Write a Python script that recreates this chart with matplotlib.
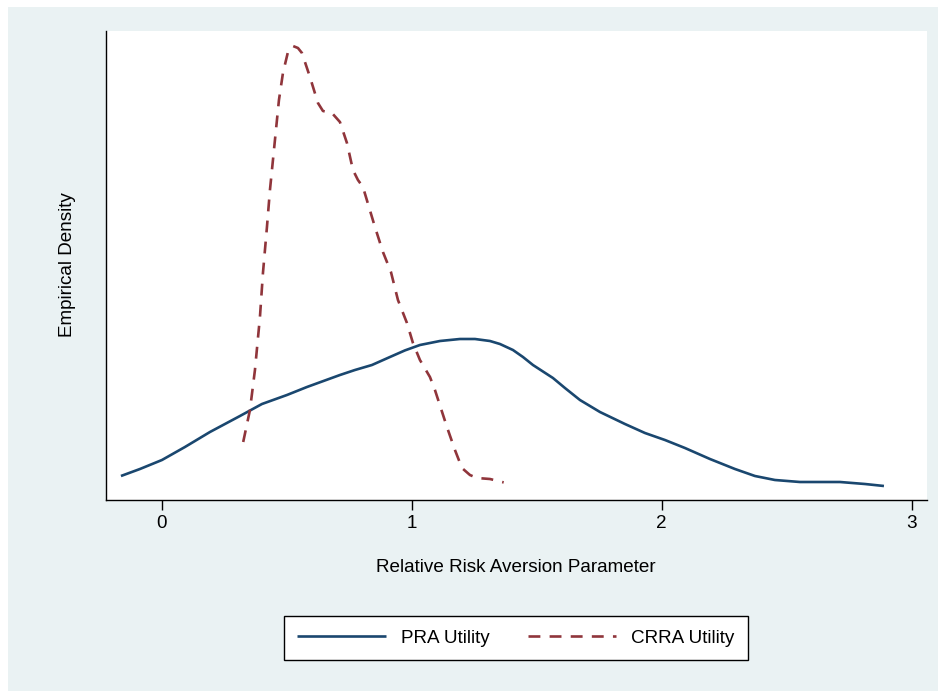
import matplotlib
matplotlib.use("Agg")
import matplotlib.pyplot as plt
from matplotlib.patches import Rectangle

plt.rcParams['font.family'] = ['Liberation Sans', 'DejaVu Sans']

# PRA Utility density (solid)
pra_x = [-0.163, -0.087, 0.001, 0.093, 0.193, 0.313, 0.401, 0.501, 0.581, 0.713,
         0.773, 0.841, 0.913, 0.973, 1.033, 1.113, 1.193, 1.253, 1.313, 1.353,
         1.405, 1.445, 1.485, 1.565, 1.613, 1.673, 1.753, 1.853, 1.933, 2.013,
         2.093, 2.193, 2.293, 2.373, 2.453, 2.553, 2.633, 2.713, 2.813, 2.889]
pra_y = [0.12, 0.155, 0.20, 0.265, 0.34, 0.42, 0.48, 0.525, 0.565, 0.625,
         0.65, 0.675, 0.715, 0.748, 0.775, 0.795, 0.805, 0.805, 0.795, 0.78,
         0.75, 0.715, 0.675, 0.61, 0.56, 0.50, 0.44, 0.38, 0.335, 0.30,
         0.26, 0.205, 0.155, 0.12, 0.10, 0.09, 0.09, 0.09, 0.08, 0.07]

# CRRA Utility density (dashed)
crra_x = [0.326, 0.353, 0.373, 0.393, 0.405, 0.421, 0.433, 0.453, 0.469, 0.485,
          0.505, 0.525, 0.545, 0.561, 0.593, 0.625, 0.645, 0.681, 0.713, 0.741,
          0.765, 0.785, 0.805, 0.853, 0.885, 0.917, 0.945, 0.981, 1.005, 1.033,
          1.073, 1.093, 1.141, 1.173, 1.201, 1.233, 1.261, 1.313, 1.361, 1.368]
crra_y = [0.29, 0.45, 0.65, 0.915, 1.135, 1.365, 1.55, 1.80, 2.00, 2.135,
          2.24, 2.27, 2.26, 2.235, 2.115, 1.985, 1.945, 1.935, 1.89, 1.785,
          1.65, 1.60, 1.565, 1.365, 1.24, 1.14, 1.00, 0.885, 0.785, 0.70,
          0.615, 0.55, 0.365, 0.25, 0.16, 0.125, 0.11, 0.105, 0.09, 0.088]

xticks = [0, 1, 2, 3]
series_labels = ["PRA Utility", "CRRA Utility"]

W, H = 938, 691
FS = 13.6
fig = plt.figure(figsize=(W / 100, H / 100), dpi=100, facecolor='white')
# graph region background
bg = Rectangle((8 / W, 0), 1 - 8 / W, 1 - 7 / H, transform=fig.transFigure,
               facecolor='#EAF2F3', edgecolor='none', zorder=-10)
fig.add_artist(bg)

ax = fig.add_axes([106 / W, 1 - 500 / H, (927 - 106) / W, (500 - 31) / H])
ax.set_zorder(1)
ax.set_facecolor('white')
x0 = (106 - 161.7) / 250
x1 = (927 - 161.7) / 250
ax.set_xlim(x0, x1)
ax.set_ylim(0, (500 - 31) / 200)

l1, = ax.plot(pra_x, pra_y, color='#1A476F', lw=1.9, solid_capstyle='butt',
              solid_joinstyle='round')
l2, = ax.plot(crra_x, crra_y, color='#90353B', lw=1.9, dashes=(4.5, 3.5),
              dash_joinstyle='round')

for s in ['top', 'right']:
    ax.spines[s].set_visible(False)
for s in ['left', 'bottom']:
    ax.spines[s].set_linewidth(1.0)
    ax.spines[s].set_color('black')

ax.set_xticks(xticks)
ax.set_xticklabels([str(t) for t in xticks])
ax.set_yticks([])
ax.tick_params(axis='x', direction='out', length=7.5, width=1.0, pad=3, labelsize=FS)

fig.text(516 / W, 1 - 567 / H, "Relative Risk Aversion Parameter", ha='center', va='center', fontsize=FS)
fig.text(68 / W, 1 - 265 / H, "Empirical Density", ha='center', va='center', rotation=90, fontsize=FS)

leg = fig.legend([l1, l2], series_labels, loc='center', bbox_to_anchor=(516 / W, 1 - 638 / H),
                 ncol=2, fontsize=FS, frameon=True, fancybox=False, edgecolor='black',
                 handlelength=4.7, handletextpad=0.8, columnspacing=2.0, borderpad=0.7,
                 borderaxespad=0, framealpha=1)
leg.get_frame().set_linewidth(1.0)
leg.get_frame().set_facecolor('white')
leg.set_zorder(2)

fig.savefig("out.png", dpi=100, facecolor=fig.get_facecolor())
